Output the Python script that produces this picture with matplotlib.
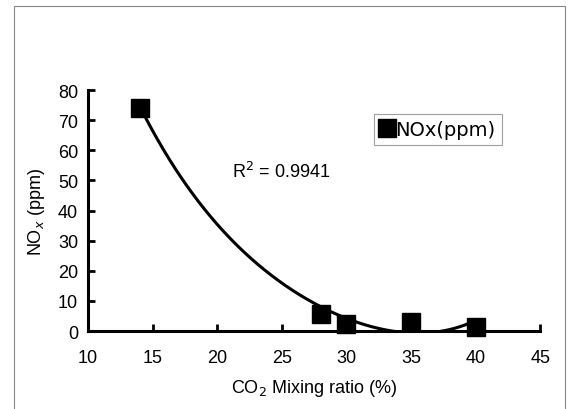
import numpy as np
import matplotlib
matplotlib.use("Agg")
import matplotlib.pyplot as plt
from matplotlib.lines import Line2D

co2_ratio = [14, 28, 30, 35, 40]
nox_ppm = [74, 5.6, 2.2, 3, 1.2]
# trendline as drawn in the reference
trend_x = [14.4, 15.8, 18.2, 20.2, 22.3, 24.9, 27.5, 29.5, 31.8, 33.4, 35.2, 37.0, 40.0]
trend_y = [71.5, 60.4, 44.9, 33.9, 26.1, 16.7, 9.0, 4.5, 1.8, 0.3, -0.8, 0.0, 3.4]
x_ticks = [10, 15, 20, 25, 30, 35, 40, 45]
y_ticks = [0, 10, 20, 30, 40, 50, 60, 70, 80]
r2_text = "R$^2$ = 0.9941"

plt.rcParams['font.family'] = ['Liberation Sans', 'DejaVu Sans']

fig = plt.figure(figsize=(5.71, 4.10), dpi=100)
ax = fig.add_axes([0.154, 0.190, 0.792, 0.588])

# 4th-order polynomial trendline
coef = np.polyfit(trend_x, trend_y, 4)
xs = np.linspace(min(co2_ratio), max(co2_ratio), 400)
ys = np.polyval(coef, xs)
ax.plot(xs, ys, color='black', lw=2.2, zorder=2)
ax.plot(co2_ratio, nox_ppm, 's', color='black', ms=12.5, zorder=3, clip_on=False)

ax.set_xlim(10, 45)
ax.set_ylim(0, 80)
ax.set_xticks(x_ticks)
ax.set_yticks(y_ticks)
for s in ['top', 'right']:
    ax.spines[s].set_visible(False)
for s in ['left', 'bottom']:
    ax.spines[s].set_linewidth(2.2)
    ax.spines[s].set_zorder(4)
ax.tick_params(axis='both', direction='in', length=5, width=2, labelsize=13)
ax.tick_params(axis='x', pad=13)
ax.tick_params(axis='y', pad=7)

ax.set_xlabel("CO$_2$ Mixing ratio (%)", fontsize=13, labelpad=8)
ax.set_ylabel("NO$_x$ (ppm)", fontsize=13, labelpad=8)

ax.text(0.319, 0.639, r2_text, transform=ax.transAxes, fontsize=13)

handle = Line2D([], [], marker='s', color='black', ls='none', ms=12.5)
leg = ax.legend([handle], ['NOx(ppm)'], loc='upper left', bbox_to_anchor=(0.633, 0.9),
                frameon=True, fancybox=False, edgecolor='#888888',
                prop={'family': 'DejaVu Sans', 'size': 14},
                handlelength=0.7, handletextpad=0.1, borderpad=0.3,
                borderaxespad=0.0)
leg.get_frame().set_linewidth(0.8)

frame_x = [14 / 571, 14 / 571, 565 / 571, 565 / 571]
frame_y = [0.0, 1 - 7 / 410, 1 - 7 / 410, 0.0]
fig.add_artist(Line2D(frame_x, frame_y, transform=fig.transFigure, color='#888888', lw=0.8))

fig.savefig("out.png", dpi=100)
